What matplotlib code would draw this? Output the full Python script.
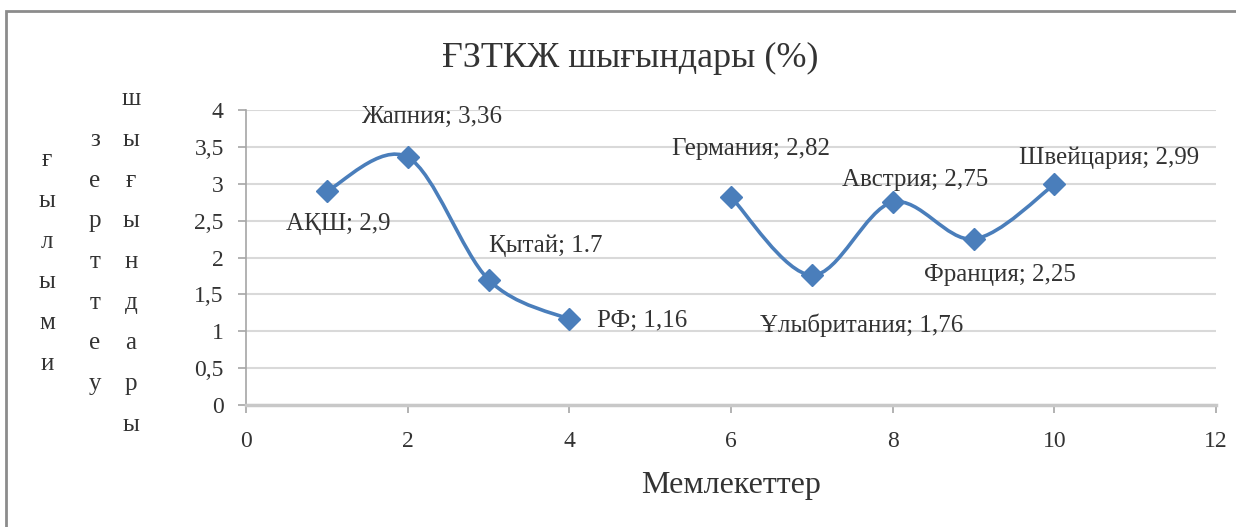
import numpy as np
import matplotlib
matplotlib.use("Agg")
import matplotlib.pyplot as plt
from matplotlib.path import Path
from matplotlib.patches import PathPatch, Rectangle
from matplotlib.ticker import FuncFormatter, MultipleLocator

plt.rcParams['font.family'] = ['Liberation Serif', 'DejaVu Serif']

# data: two groups of countries, gap at x=5
x_left = [1, 2, 3, 4]
y_left = [2.9, 3.36, 1.7, 1.16]
names_left = ['АҚШ', 'Жапния', 'Қытай', 'РФ']

x_right = [6, 7, 8, 9, 10]
y_right = [2.82, 1.76, 2.75, 2.25, 2.99]
names_right = ['Германия', 'Ұлыбритания', 'Австрия', 'Франция', 'Швейцария']

# decimal mark used in each data label
marks_left = [',', ',', '.', ',']
marks_right = [',', ',', ',', ',', ',']

# label offsets from the marker (pixels)
offs_left = [(11, -33), (24, 40), (57, 34), (73, -2)]
offs_right = [(20, 48), (50, -50), (22, 22), (26, -36), (55, 27)]

blue = '#4A7EBB'
txt = '#333333'


def smooth_path(xs, ys):
    # catmull-rom style bezier through the points (like spreadsheet smoothed lines)
    pts = np.column_stack([xs, ys]).astype(float)
    n = len(pts)
    verts = [pts[0]]
    codes = [Path.MOVETO]
    for i in range(n - 1):
        p0 = pts[i]
        p3 = pts[i + 1]
        prev = pts[i - 1] if i > 0 else pts[i]
        nxt = pts[i + 2] if i + 2 < n else pts[i + 1]
        c1 = p0 + (p3 - prev) / 6
        c2 = p3 - (nxt - p0) / 6
        verts += [c1, c2, p3]
        codes += [Path.CURVE4] * 3
    return Path(verts, codes)


def fmt(v, mark=','):
    return ('%g' % v).replace('.', mark)


fig = plt.figure(figsize=(12.36, 5.27), dpi=100)
ax = fig.add_axes([246 / 1236, 1 - 405 / 527, 970 / 1236, 295 / 527])

for xs, ys, names, marks, offs in [(x_left, y_left, names_left, marks_left, offs_left),
                                   (x_right, y_right, names_right, marks_right, offs_right)]:
    ax.add_patch(PathPatch(smooth_path(xs, ys), fill=False, edgecolor=blue, lw=2.6, zorder=3))
    ax.plot(xs, ys, ls='none', marker='D', ms=11, color=blue, zorder=4)
    for x, y, nm, mk, (dx, dy) in zip(xs, ys, names, marks, offs):
        ax.annotate(f'{nm}; {fmt(y, mk)}', (x, y), xytext=(dx, dy), textcoords='offset pixels',
                    ha='center', va='center', fontsize=18, color=txt, zorder=5)

ax.set_xlim(0, 12)
ax.set_ylim(0, 4)
ax.xaxis.set_major_locator(MultipleLocator(2))
ax.yaxis.set_major_locator(MultipleLocator(0.5))
ax.yaxis.set_major_formatter(FuncFormatter(lambda v, p: fmt(v)))
ax.grid(axis='y', color='#D9D9D9', lw=1.5)
ax.set_axisbelow(True)

for s in ['top', 'right']:
    ax.spines[s].set_visible(False)
ax.spines['left'].set_color('#A6A6A6')
ax.spines['left'].set_linewidth(1.2)
ax.spines['bottom'].set_color('#C8C8C8')
ax.spines['bottom'].set_linewidth(2.5)
ax.tick_params(axis='y', direction='out', length=6, width=1.2, color='#A6A6A6',
               labelsize=17, labelcolor=txt, pad=10)
ax.tick_params(axis='x', direction='out', length=6, width=1.2, color='#A6A6A6',
               labelsize=17, labelcolor=txt, pad=13)

fig.text(630 / 1236, 1 - 58 / 527, 'ҒЗТКЖ шығындары (%)', ha='center', va='center',
         fontsize=26, color=txt)
fig.text(731 / 1236, 1 - 485 / 527, 'Мемлекеттер', ha='center', va='center',
         fontsize=23, color=txt)

# vertical y-axis caption, one letter per line in three columns
for word, xp in [('ғылыми', 47), ('зерттеу', 95), ('шығындары', 131)]:
    fig.text(xp / 1236, 1 - 262 / 527, '\n'.join(word), ha='center', va='center',
             fontsize=18, linespacing=2.1, color=txt)

# chart frame
fig.patches.append(Rectangle((6 / 1236, -0.1), 1.2, 1.1 - 11 / 527, transform=fig.transFigure,
                             fill=False, edgecolor='#8C8C8C', lw=2))

fig.savefig('out.png', dpi=100)
